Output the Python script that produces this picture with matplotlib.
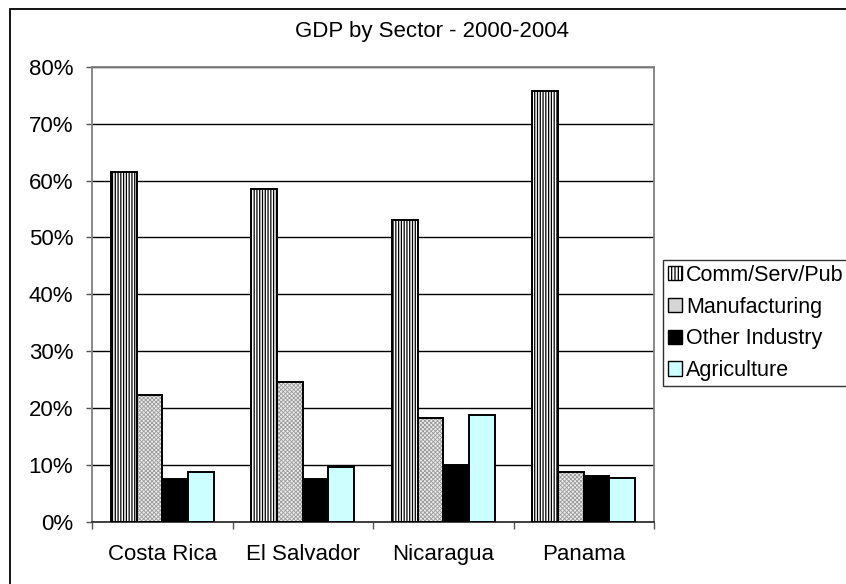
"""GDP by sector bar chart, Excel style."""

import matplotlib
matplotlib.use("Agg")
import matplotlib.pyplot as plt
from matplotlib.patches import Patch, Rectangle
from matplotlib.ticker import PercentFormatter
import numpy as np

countries = ["Costa Rica", "El Salvador", "Nicaragua", "Panama"]
sectors = ["Comm/Serv/Pub", "Manufacturing", "Other Industry", "Agriculture"]
comm_serv_pub = [61.6, 58.6, 53.0, 75.8]
manufacturing = [22.3, 24.6, 18.3, 8.7]
other_industry = [7.5, 7.4, 10.0, 8.0]
agriculture = [8.8, 9.6, 18.7, 7.6]
y_ticks = [0, 10, 20, 30, 40, 50, 60, 70, 80]

plt.rcParams["font.family"] = ["Liberation Sans", "DejaVu Sans"]
plt.rcParams["hatch.linewidth"] = 0.9

# (face, hatch, hatch colour, hatch width)
styles = [
    ("white", "||||||", "#000000", 0.9),
    ("#ececec", "xxxxxxxx", "#9a9a9a", 0.6),
    ("black", None, "#000000", 0.9),
    ("#ccffff", None, "#000000", 0.9),
]
legend_faces = ["white", "#d6d6d6", "black", "#ccffff"]
series = [comm_serv_pub, manufacturing, other_industry, agriculture]

fig = plt.figure(figsize=(8.46, 5.84), dpi=100)
ax = fig.add_axes([92 / 846, 62.5 / 584, (654 - 92) / 846, (521.5 - 67) / 584])

x = np.arange(len(countries))
width = 0.183
for i, (vals, (face, hatch, hcol, hlw)) in enumerate(zip(series, styles)):
    pos = x + (i - 1.5) * width
    # fill + hatch layer, then black outline on top
    with plt.rc_context({"hatch.linewidth": hlw}):
        ax.bar(pos, vals, width, color=face, hatch=hatch, edgecolor=hcol,
               linewidth=0, zorder=3)
    ax.bar(pos, vals, width, fill=False, edgecolor="black", linewidth=1.4,
           zorder=4)

ax.set_xlim(-0.5, len(countries) - 0.5)
ax.set_ylim(0, 80)
ax.set_yticks(y_ticks)
ax.yaxis.set_major_formatter(PercentFormatter(100, decimals=0))
ax.yaxis.grid(True, color="black", linewidth=1.0, zorder=1)
ax.set_axisbelow(True)

ax.set_xticks(x)
ax.set_xticklabels(countries, fontsize=16)
ax.set_xticks(np.arange(len(countries) + 1) - 0.5, minor=True)
ax.tick_params(axis="x", which="major", length=0, pad=16)
ax.tick_params(axis="x", which="minor", length=5, width=1, color="#555555",
               direction="out")
ax.tick_params(axis="y", labelsize=16, length=4.5, width=1, color="#555555",
               pad=9)

for side in ["left", "top", "right"]:
    ax.spines[side].set_color("#808080")
    ax.spines[side].set_linewidth(1.3)
ax.spines["bottom"].set_color("#333333")
ax.spines["bottom"].set_linewidth(1.3)

fig.text(432 / 846, 1 - 31 / 584, "GDP by Sector - 2000-2004", fontsize=16,
         ha="center", va="center")

handles = []
for name, face, (_, hatch, _, _) in zip(sectors, legend_faces, styles):
    if hatch == "||||||":
        handles.append(Patch(facecolor=face, hatch="|||||", edgecolor="black",
                             linewidth=1.0, label=name))
    else:
        handles.append(Patch(facecolor=face, edgecolor="black",
                             linewidth=1.0, label=name))
leg = fig.legend(handles=handles, loc="upper left",
                 bbox_to_anchor=(663 / 846, 1 - 260 / 584), fontsize=15.5,
                 frameon=True, fancybox=False, borderaxespad=0,
                 handlelength=0.65, handleheight=0.65, handletextpad=0.2,
                 labelspacing=0.5, borderpad=0.22)
leg.get_frame().set_edgecolor("black")
leg.get_frame().set_linewidth(1.0)

# outer chart border
fig.patches.append(Rectangle((9.5 / 846, -0.1), 1.2, 0.1 + 1 - 9.5 / 584,
                             transform=fig.transFigure, fill=False,
                             edgecolor="black", linewidth=1.3))

fig.savefig("out.png", dpi=100)
